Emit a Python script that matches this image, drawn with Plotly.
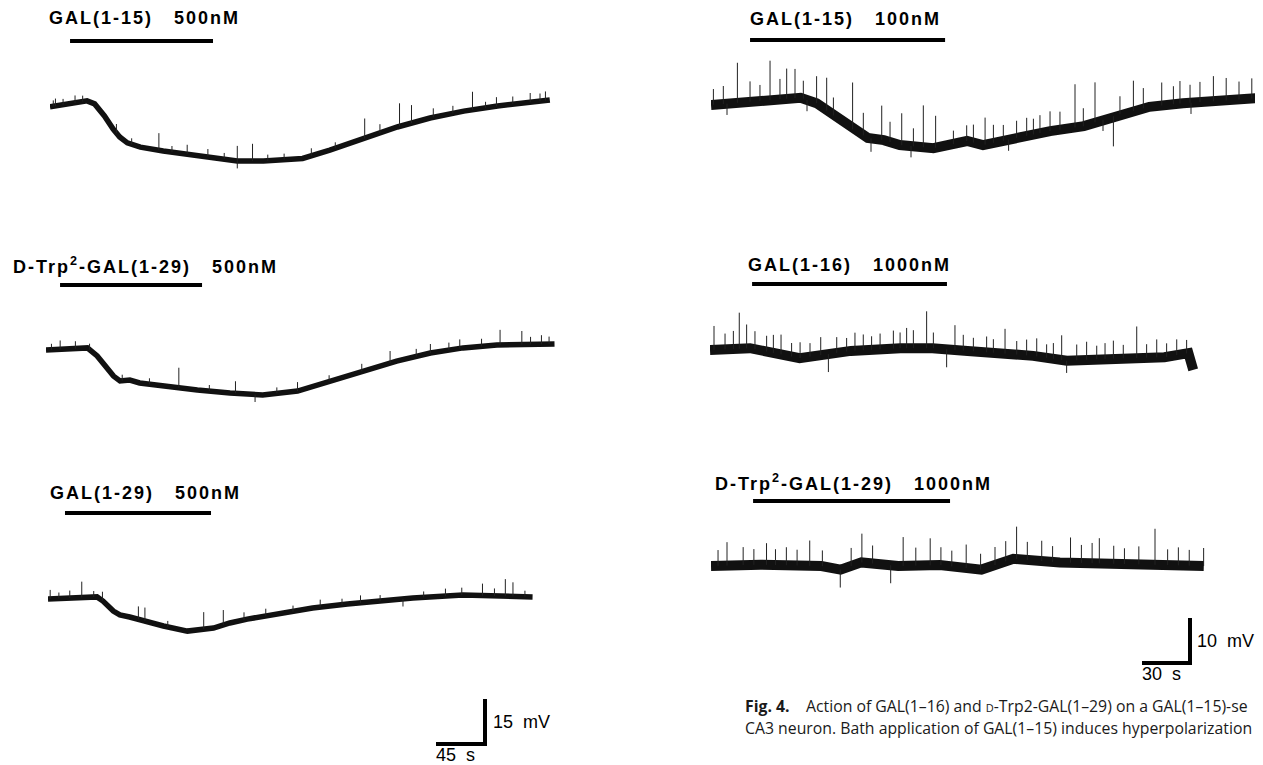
import numpy as np
import plotly.graph_objects as go

# ---------------- data (time s from sweep start, membrane potential change mV) ----------------
# Left column: 500 nM applications
L1_t = [0, 18, 34, 41, 50, 58, 64, 71, 83, 104, 135, 172, 196, 232, 257, 288, 319, 349, 380, 411, 432, 459]
L1_v = [-0.3, 0.7, 1.7, 0.7, -3.3, -7.7, -10.3, -12.3, -13.7, -15, -16.3, -18.3, -18.3, -17.5, -14.7, -11, -7, -4, -1.7, 0, 1, 2]
L1_spk_t = [3, 5, 12, 23, 30, 61, 75, 100, 112, 126, 145, 160, 172, 172, 186, 200, 215, 240, 262, 289, 303, 321, 332,
            352, 370, 388, 400, 410, 425, 441, 450, 455]
L1_spk_h = [2, 2.5, 2, 2.5, 2, 3, 2, 5.7, 2, 3, 2.5, 2, 5, -2.5, 5.7, 2, 2, 2.5, 2, 6.7, 3, 7.7, 6,
            3, 2.5, 6, 2, 3, 2.5, 3, 2.5, 3]

L2_t = [0, 22, 38, 47, 56, 62, 68, 77, 86, 107, 139, 169, 199, 231, 261, 291, 322, 353, 383, 414, 467]
L2_v = [0, 0.3, 0.7, -2, -6, -8.7, -10.3, -10, -11, -12, -13.3, -14.3, -15, -13.7, -10.3, -7, -3.7, -1, 0.7, 1.7, 2]
L2_spk_t = [5, 13, 27, 40, 70, 95, 122, 150, 174, 192, 212, 231, 260, 290, 316, 340, 353, 370, 380, 400, 417, 437,
            445, 455, 462]
L2_spk_h = [2, 3, 2.5, 2, 2, 2, 6.7, 2, 4, -2.5, 2, 3, 2, 2.5, 4, 2.5, 3, 2.5, 3, 2.5, 5, 4.5, 2.5, 3, 2.5]

L3_t = [0, 45, 50.5, 54, 60, 66, 75, 106, 128, 152, 167, 183, 213, 243, 275, 305, 335, 381, 412, 445]
L3_v = [0, 0.7, -0.7, -2, -4, -5.3, -6, -9, -10.7, -9.7, -8, -6.7, -5, -3, -1.7, -0.7, 0.3, 1.3, 1, 0.7]
L3_spk_t = [2, 10, 20, 31, 42, 50, 83, 89, 110, 143, 161, 180, 200, 225, 250, 270, 287, 305, 326, 345, 365, 380,
            399, 410, 420, 427, 438]
L3_spk_h = [3, 2, 2.5, 5.3, 2, 3, 4.3, 4.5, 2, 5.7, 5, 2.5, 2.5, 2, 2.5, 2, 2.5, 2, -2.5, 2, 2.5, 2.5,
            4, 2.5, 5.7, 4.7, 2]

# Right column: same neuron, GAL(1-15) vs GAL(1-16) / D-Trp2-GAL(1-29)
R1_t = [0, 14, 35, 56, 66, 76, 87, 98, 108, 118, 139, 149, 160, 170, 191, 212, 233, 254, 274, 295, 318, 345]
R1_v = [0, 0.4, 1.1, 1.6, 0.4, -2.2, -5.1, -7.3, -7.8, -8.9, -9.6, -8.9, -8, -8.9, -7.3, -5.8, -4.7, -2.2, -0.4, 0.4, 0.9, 1.6]
R1_spk_t = [1.5, 7.7, 10, 16.5, 24.4, 30.6, 36.9, 43.1, 47.3, 52.5, 57.7, 60, 66, 72.3, 76.5, 88.5, 95.2, 100, 106.7,
            111.9, 119.2, 125, 126.5, 132.7, 140.4, 151.5, 159.8, 164, 171.3, 176.5, 182.7, 186, 191, 197.3, 201.5,
            205.6, 211.9, 218.1, 227.5, 232.7, 240, 245, 251.5, 255.6, 264, 270.2, 281.7, 289, 293.1, 299.4, 300,
            305.6, 314, 322, 330, 338, 343]
R1_spk_h = [3.5, 4, -2.5, 8.9, 4.5, 3.5, 8.7, 4.5, 6.7, 6.5, 4, -2.5, 6, 7.3, 4, 10.4, 5, -3, 7.6,
            4.5, 7.1, -2.5, 4, 9.3, 7.1, 3, 3.5, 4, 6, 4, 3.5, -2.5, 3.8, 4, 3.5,
            4, 4.4, 4, 9.6, 4, 8.9, -2.5, -6.7, 4, 6.7, 4.5, 5.1, 4, 5, 4, -2.5,
            4.5, 5.6, 5, 4, 4.5, 4]

R2_t = [0, 25, 56, 88, 119, 139, 161, 181, 202, 223, 244, 264, 284, 299, 302]
R2_v = [0, 0.4, -1.8, -0.2, 0.4, 0.4, -0.2, -0.7, -1.3, -2.4, -2, -1.8, -1.6, -0.7, -4.4]
R2_spk_t = [2.5, 9.4, 14.6, 18.3, 22.9, 28.1, 35.4, 39.6, 44.4, 51, 56.3, 62.5, 69.2, 74, 79.2, 85.4, 90.6, 95.8,
            101, 106.3, 114.6, 118.8, 122.9, 127.1, 135.4, 139.6, 147.9, 153.1, 158.3, 164.6, 172.9, 177.1, 184.4,
            191.7, 197.9, 204.2, 210.4, 214.6, 219.8, 222.9, 229.2, 235.4, 241.7, 246.9, 252.1, 258.3, 266.7, 272.9,
            279.2, 285.4, 291.7, 297.9]
R2_spk_h = [5.3, 3.5, 4, 8, 5.3, 4, 3.5, 4, 4.4, 3, 3.5, 3, 4, -4, 3.5, 3, 4, 3.5,
            3, 3.5, 4, 3.5, 4.5, 4, 8.2, 3.5, -4, 5.5, 3.5, 3, 3.5, 3, 5.5,
            3, 3.5, 4, 3, 3.5, 5.5, -2.7, 3.5, 4, 3, 3.5, 4, 3, 7, 3,
            4, 3, 3.5, 3]

R3_t = [0, 31, 69, 81, 94, 117, 143, 169, 189, 218, 263, 308]
R3_v = [0, 0.3, 0, -0.8, 0.8, 0, 0.2, -0.8, 1.6, 0.8, 0.4, 0]
R3_spk_t = [4.4, 10, 20.1, 26.8, 34.7, 40.3, 47.1, 53.8, 61.7, 69.6, 80.8, 87.6, 94.3, 101, 112.3, 120.1, 128, 137,
            143.7, 150.5, 159.5, 168.5, 177.5, 184.2, 191, 197.7, 206.7, 213.5, 224.7, 231.5, 238.2, 242.7, 251.7,
            258.4, 267.4, 277.5, 285.4, 292.1, 298.9, 307.9]
R3_spk_h = [3.5, 5.2, 4, 3.5, 4.8, 3.5, 4, 3.5, 5.6, 3.5, -4, 4, 6.4, 4, -4, 6.4, 4, 6,
            4, 3.5, 5.2, 3.5, 4, 4.5, 7.2, 4, 4.5, 3.5, 5.6, 4, 4.5, 5.6, 4,
            3.5, 4, 8, 3.5, 4, 3.5, 4]

# drug application periods (s)
DRUG_ON = [18.4, 12.9, 15.6, 24.4, 26.3, 26.3]
DRUG_OFF = [149.7, 143.3, 149.7, 146.3, 148.1, 149.4]

NB = "\u00a0"
LABELS = [
    "GAL(1-15)" + NB * 3 + "500nM",
    "D-Trp<sup>2</sup>-GAL(1-29)" + NB * 3 + "500nM",
    "GAL(1-29)" + NB * 3 + "500nM",
    "GAL(1-15)" + NB * 3 + "100nM",
    "GAL(1-16)" + NB * 3 + "1000nM",
    "D-Trp<sup>2</sup>-GAL(1-29)" + NB * 3 + "1000nM",
]

# scale bars (s, mV) for left / right columns
SCALE_T = [45, 30]
SCALE_V = [15, 10]
SCALE_TXT_T = ["45" + NB * 2 + "s", "30" + NB * 2 + "s"]
SCALE_TXT_V = ["15" + NB * 2 + "mV", "10" + NB * 2 + "mV"]

CAPTION_1 = ("<b>Fig. 4.</b>" + NB * 4 + "Action of GAL(1–16) and <span style='font-size:11px'>D</span>"
             "-Trp2-GAL(1–29) on a GAL(1–15)-se")
CAPTION_2 = "CA3 neuron. Bath application of GAL(1–15) induces hyperpolarization"

traces = [
    (L1_t, L1_v, L1_spk_t, L1_spk_h),
    (L2_t, L2_v, L2_spk_t, L2_spk_h),
    (L3_t, L3_v, L3_spk_t, L3_spk_h),
    (R1_t, R1_v, R1_spk_t, R1_spk_h),
    (R2_t, R2_v, R2_spk_t, R2_spk_h),
    (R3_t, R3_v, R3_spk_t, R3_spk_h),
]

# ---------------- layout (page pixels; the page body has an 8 px margin) ----------------
W, H = 1263, 765
OFF = 8
FW, FH = W - OFF, H - OFF
COLS = {"L": dict(ppx=49 / 45, ppy=3.0, xmax=600, lw=5.5),
        "R": dict(ppx=48 / 30, ppy=4.5, xmax=1263, lw=10)}
POS = [
    dict(col="L", x0=50, y0=106, lab=(47, 18), bar=41),
    dict(col="L", x0=46, y0=350, lab=(11, 266), bar=285),
    dict(col="L", x0=48, y0=599, lab=(48, 493), bar=513),
    dict(col="R", x0=711, y0=105, lab=(748, 19), bar=40),
    dict(col="R", x0=710, y0=350, lab=(746, 265), bar=284),
    dict(col="R", x0=711, y0=566, lab=(713, 483), bar=501),
]
SCALE_POS = [dict(col="L", cx=485, cy=744, tdy=11, vx=491),
             dict(col="R", cx=1190, cy=663, tdy=11, vx=1195)]


def px(xp):
    return (xp - OFF) / FW


def py(yp):
    return 1 - (yp - OFF) / FH


fig = go.Figure()
layout = dict(width=FW, height=FH, margin=dict(l=0, r=0, t=0, b=0), autosize=False,
              paper_bgcolor="white", plot_bgcolor="rgba(0,0,0,0)", showlegend=False)
annotations = []
shapes = []
LABEL_FONT = dict(family="Liberation Sans, Arial", size=18, color="black", weight="bold")

for i, ((t, v, st, sh), p) in enumerate(zip(traces, POS), start=1):
    c = COLS[p["col"]]
    xa, ya = f"x{i}", f"y{i}"
    span = 80
    layout[f"xaxis{i}"] = dict(domain=[px(p["x0"]), px(c["xmax"])], range=[0, (c["xmax"] - p["x0"]) / c["ppx"]],
                               visible=False, anchor=ya, fixedrange=True)
    layout[f"yaxis{i}"] = dict(domain=[py(p["y0"] + span), py(p["y0"] - span)],
                               range=[-span / c["ppy"], span / c["ppy"]], visible=False, anchor=xa, fixedrange=True)
    fig.add_trace(go.Scatter(x=t, y=v, mode="lines", xaxis=xa, yaxis=ya,
                             line=dict(color="#111", width=c["lw"]), hoverinfo="skip"))
    base = np.interp(st, t, v)
    sx, sy = [], []
    for tt, b, hh in zip(st, base, sh):
        sx += [tt, tt, None]
        sy += [b, b + hh, None]
    fig.add_trace(go.Scatter(x=sx, y=sy, mode="lines", xaxis=xa, yaxis=ya,
                             line=dict(color="#222", width=1), hoverinfo="skip"))
    shapes.append(dict(type="line", xref=xa, yref="paper", x0=DRUG_ON[i - 1], x1=DRUG_OFF[i - 1],
                       y0=py(p["bar"]), y1=py(p["bar"]), line=dict(color="black", width=4)))
    annotations.append(dict(text="<span style='letter-spacing:2px'>" + LABELS[i - 1] + "</span>",
                            xref="paper", yref="paper", x=px(p["lab"][0]), y=py(p["lab"][1]),
                            xanchor="left", yanchor="middle", showarrow=False, font=LABEL_FONT))

for k, sp in enumerate(SCALE_POS):
    c = COLS[sp["col"]]
    idx = 7 + k
    xa, ya = f"x{idx}", f"y{idx}"
    x_lo, x_hi = sp["cx"] - 80, sp["cx"] + 20
    y_top, y_bot = sp["cy"] - 70, sp["cy"] + 15
    layout[f"xaxis{idx}"] = dict(domain=[px(x_lo), px(x_hi)],
                                 range=[(x_lo - sp["cx"]) / c["ppx"], (x_hi - sp["cx"]) / c["ppx"]],
                                 visible=False, anchor=ya, fixedrange=True)
    layout[f"yaxis{idx}"] = dict(domain=[py(y_bot), py(y_top)],
                                 range=[(sp["cy"] - y_bot) / c["ppy"], (sp["cy"] - y_top) / c["ppy"]],
                                 visible=False, anchor=xa, fixedrange=True)
    fig.add_trace(go.Scatter(x=[-SCALE_T[k], 0, 0], y=[0, 0, SCALE_V[k]], mode="lines", xaxis=xa, yaxis=ya,
                             line=dict(color="black", width=4), hoverinfo="skip"))
    sfont = dict(family="Liberation Sans, Arial", size=18, color="black")
    annotations.append(dict(text=SCALE_TXT_V[k],
                            xref="paper", yref="paper",
                            x=px(sp["vx"]), y=py(sp["cy"] - SCALE_V[k] * c["ppy"] / 2),
                            xanchor="left", yanchor="middle", showarrow=False, font=sfont))
    annotations.append(dict(text=SCALE_TXT_T[k],
                            xref="paper", yref="paper",
                            x=px(sp["cx"] - SCALE_T[k] * c["ppx"] - 2), y=py(sp["cy"] + sp["tdy"]),
                            xanchor="left", yanchor="middle", showarrow=False, font=sfont))

cfont = dict(family="Open Sans, Noto Sans", size=15.8, color="#1a1a1a")
annotations.append(dict(text=CAPTION_1, xref="paper", yref="paper", x=px(743), y=py(706),
                        xanchor="left", yanchor="middle", showarrow=False, font=cfont))
annotations.append(dict(text=CAPTION_2, xref="paper", yref="paper", x=px(743), y=py(728),
                        xanchor="left", yanchor="middle", showarrow=False, font=cfont))

layout["annotations"] = annotations
layout["shapes"] = shapes
fig.update_layout(**layout)
fig.write_html("out.html", config={"displayModeBar": False, "staticPlot": True})
